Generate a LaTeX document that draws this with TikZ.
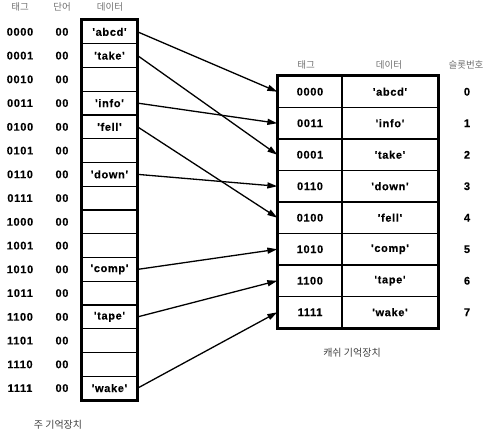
\documentclass[tikz,border=0pt]{standalone}
\usepackage{fontspec}
\usetikzlibrary{arrows.meta}
\setmainfont{Liberation Sans}
\newfontfamily\lab{Liberation Sans}[LetterSpace=6, FakeBold=0.4]
\newfontfamily\kr{Noto Sans CJK KR}
\definecolor{hdr}{HTML}{707070}
\tikzset{
  txt/.style={font=\lab\fontsize{11}{13}\selectfont\bfseries, inner sep=0pt},
  hd/.style={font=\kr\fontsize{9.5}{11}\selectfont, text=hdr, inner sep=0pt},
  captxt/.style={font=\kr\fontsize{10}{12}\selectfont, text=black!75, inner sep=0pt},
  mcell/.style={draw, line width=1.3pt, minimum width=55pt, minimum height=23.75pt, inner sep=0pt, txt},
  tcell/.style={draw, line width=1.3pt, minimum width=64pt, minimum height=31.5pt, inner sep=0pt, txt},
  dcell/.style={draw, line width=1.3pt, minimum width=96pt, minimum height=31.5pt, inner sep=0pt, txt},
  arr/.style={line width=1.3pt, -{Triangle[length=10pt,width=6pt]}}
}
\begin{document}
\begin{tikzpicture}[x=1pt,y=-1pt]
\useasboundingbox (0,0) rectangle (490,433);
% main memory headers
\node[hd] (h1) at (20,7) {태그};
\node[hd] (h2) at (62,7) {단어};
\node[hd] (h3) at (110,7) {데이터};
% main memory rows
\foreach \t/\d [count=\i from 0] in {0000/'abcd',0001/'take',0010/,0011/'info',0100/'fell',0101/,0110/'down',0111/,1000/,1001/,1010/'comp',1011/,1100/'tape',1101/,1110/,1111/'wake'}{
  \node[txt] (t\i) at (20,{20+23.75*(\i+0.5)}) {\t};
  \node[txt] (w\i) at (62,{20+23.75*(\i+0.5)}) {00};
  \node[mcell] (m\i) at (109.5,{20+23.75*(\i+0.5)}) {\d};
}
\draw[line width=1.8pt] (m0.north west) rectangle (m15.south east);
% cache headers
\node[hd] (ch1) at (306,65) {태그};
\node[hd] (ch2) at (389,65) {데이터};
\node[hd] (ch3) at (466,65) {슬롯번호};
\foreach \t/\d [count=\j from 0] in {0000/'abcd',0011/'info',0001/'take',0110/'down',0100/'fell',1010/'comp',1100/'tape',1111/'wake'}{
  \node[tcell] (c\j) at (310,{76+31.5*(\j+0.5)}) {\t};
  \node[dcell] (d\j) at (390,{76+31.5*(\j+0.5)}) {\d};
  \node[txt] (s\j) at (467,{76+31.5*(\j+0.5)}) {\j};
}
\draw[line width=1.8pt] (c0.north west) rectangle (d7.south east);
% arrows
\draw[arr] (m0.east) -- (c0.west);
\draw[arr] (m1.east) -- (c2.west);
\draw[arr] (m3.east) -- (c1.west);
\draw[arr] (m4.east) -- (c4.west);
\draw[arr] (m6.east) -- (c3.west);
\draw[arr] (m10.east) -- (c5.west);
\draw[arr] (m12.east) -- (c6.west);
\draw[arr] (m15.east) -- (c7.west);
% captions
\node[captxt] (mc) at (58,425) {주 기억장치};
\node[captxt] (cc) at (352,353) {캐쉬 기억장치};
\end{tikzpicture}
\end{document}
